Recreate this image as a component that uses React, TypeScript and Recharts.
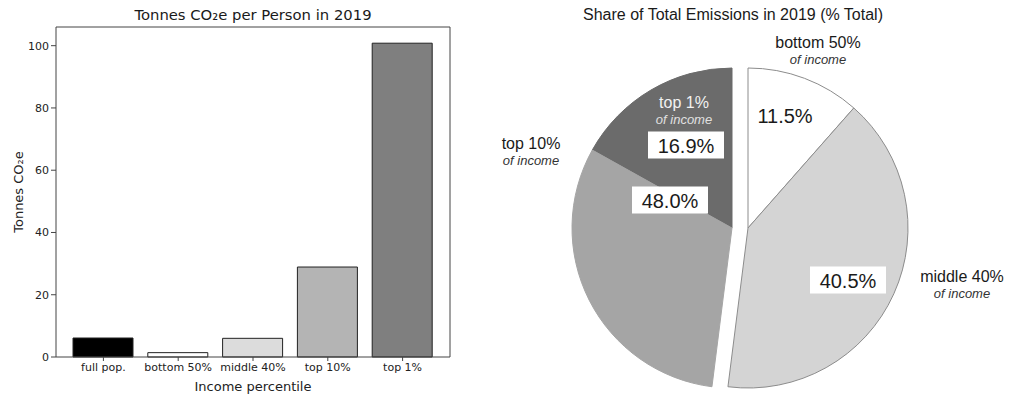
import React from "react";
import { BarChart, Bar, XAxis, YAxis, Cell, CartesianGrid, PieChart, Pie } from "recharts";

// left panel: tonnes CO2e per person, by income group
const incomeGroups = ["full pop.", "bottom 50%", "middle 40%", "top 10%", "top 1%"];
const tonnesPerPerson = [6.1, 1.4, 6.0, 28.9, 100.8];
const yTicks = [0, 20, 40, 60, 80, 100];

// right panel: share of total emissions (%)
const shareGroups = ["bottom 50%", "middle 40%", "top 10%"];
const sharePct = [11.5, 40.5, 48.0];
const top1Name = "top 1%";
const top1Pct = 16.9;

const BAR_FILLS = ["#000000", "#ffffff", "#dcdcdc", "#b4b4b4", "#7f7f7f"];
const PIE_FILLS: Record<string, string> = {
  "bottom 50%": "#ffffff",
  "middle 40%": "#d4d4d4",
  "top 10%": "#a5a5a5",
  "top 1%": "#6b6b6b",
};

const barData = incomeGroups.map((group, i) => ({ group, tonnes: tonnesPerPerson[i] }));

const rightData = [
  { name: shareGroups[0], value: sharePct[0], shown: sharePct[0] },
  { name: shareGroups[1], value: sharePct[1], shown: sharePct[1] },
];
// top 10% wedge split into the top 1% and the remaining 9%
const leftData = [
  { name: top1Name, value: top1Pct, shown: top1Pct },
  { name: shareGroups[2], value: sharePct[2] - top1Pct, shown: sharePct[2] },
];

const sum = (d: { value: number }[]) => d.reduce((a, b) => a + b.value, 0);

// label placement, offsets from the pie centre
const LABELS: Record<string, { name: [number, number]; value: [number, number]; onDark?: boolean; box?: boolean }> = {
  "bottom 50%": { name: [70, -177], value: [37, -113], box: false },
  "middle 40%": { name: [214, 57], value: [100, 52], box: true },
  "top 10%": { name: [-201, -76], value: [-62, -28], box: true },
  "top 1%": { name: [-48, -117], value: [-46, -83], onDark: true, box: true },
};

const renderPieLabel = (p: any) => {
  const name = p.payload?.name ?? p.name;
  const shown = p.payload?.shown ?? p.shown;
  const lay = LABELS[name];
  if (!lay) return null;
  const nx = p.cx + lay.name[0];
  const ny = p.cy + lay.name[1];
  const vx = p.cx + lay.value[0];
  const vy = p.cy + lay.value[1];
  return (
    <g>
      <text x={nx} y={ny - 8.5} textAnchor="middle" dominantBaseline="central" fontSize={16} fill={lay.onDark ? "#f2f2f2" : "#1a1a1a"}>
        {name}
      </text>
      <text x={nx} y={ny + 8.5} textAnchor="middle" dominantBaseline="central" fontSize={13} fontStyle="italic" fill={lay.onDark ? "#e0e0e0" : "#333"}>
        of income
      </text>
      {lay.box && <rect x={vx - 38} y={vy - 13.5} width={76} height={27} fill="#ffffff" />}
      <text x={vx} y={vy + 1} textAnchor="middle" dominantBaseline="central" fontSize={20} fill="#1a1a1a">
        {shown.toFixed(1)}%
      </text>
    </g>
  );
};

export default function App() {
  return (
    <div style={{ position: "absolute", left: 0, top: 0, width: 1024, height: 403, background: "#fff" }}>
      <div style={{ position: "absolute", left: 0, top: 0, width: 470, height: 403, fontFamily: "DejaVu Sans" }}>
        <div style={{ position: "absolute", left: 0, top: 6, width: 506, textAlign: "center", fontSize: 14.8, lineHeight: "18px", color: "#1a1a1a" }}>
          Tonnes CO₂e per Person in 2019
        </div>
        <BarChart width={470} height={403} data={barData} margin={{ top: 27, right: 20, bottom: 0, left: 0 }}>
          {/* top and right edges of the axes frame */}
          <CartesianGrid
            stroke="#444"
            horizontalCoordinatesGenerator={({ offset }: any) => [offset.top]}
            verticalCoordinatesGenerator={({ offset }: any) => [offset.left + offset.width]}
          />
          <XAxis
            dataKey="group"
            height={46}
            interval={0}
            padding={{ left: 10, right: 10 }}
            tick={{ fontSize: 11, fill: "#222" }}
            tickSize={4}
            tickLine={{ stroke: "#444" }}
            axisLine={{ stroke: "#444" }}
            label={{ value: "Income percentile", position: "insideBottom", offset: 12, fontSize: 13, fill: "#222" }}
          />
          <YAxis
            width={56}
            domain={[0, 106]}
            ticks={yTicks}
            tick={{ fontSize: 11, fill: "#222" }}
            tickSize={5}
            tickLine={{ stroke: "#444" }}
            axisLine={{ stroke: "#444" }}
            label={{ value: "Tonnes CO₂e", angle: -90, position: "center", dx: -10, fontSize: 13, fill: "#222" }}
          />
          <Bar dataKey="tonnes" barSize={60} stroke="#222" strokeWidth={1} isAnimationActive={false}>
            {barData.map((d, i) => (
              <Cell key={d.group} fill={BAR_FILLS[i]} />
            ))}
          </Bar>
        </BarChart>
      </div>

      <div style={{ position: "absolute", left: 470, top: 0, width: 554, height: 403, fontFamily: "Liberation Sans" }}>
        <div style={{ position: "absolute", left: 0, top: 5, width: 526, textAlign: "center", fontSize: 16, lineHeight: "20px", color: "#1a1a1a" }}>
          Share of Total Emissions in 2019 (% Total)
        </div>
        <PieChart width={554} height={403} margin={{ top: 0, right: 0, bottom: 0, left: 0 }}>
          <Pie
            data={leftData}
            dataKey="value"
            cx={262}
            cy={228}
            outerRadius={160}
            startAngle={90}
            endAngle={90 + 3.6 * sum(leftData)}
            labelLine={false}
            label={renderPieLabel}
            isAnimationActive={false}
          >
            {leftData.map((d) => (
              <Cell key={d.name} fill={PIE_FILLS[d.name]} stroke={PIE_FILLS[d.name]} />
            ))}
          </Pie>
          <Pie
            data={rightData}
            dataKey="value"
            cx={278}
            cy={228}
            outerRadius={160}
            startAngle={90}
            endAngle={90 - 3.6 * sum(rightData)}
            labelLine={false}
            label={renderPieLabel}
            isAnimationActive={false}
          >
            {rightData.map((d) => (
              <Cell key={d.name} fill={PIE_FILLS[d.name]} stroke="#8c8c8c" strokeWidth={1} />
            ))}
          </Pie>
        </PieChart>
      </div>
    </div>
  );
}
